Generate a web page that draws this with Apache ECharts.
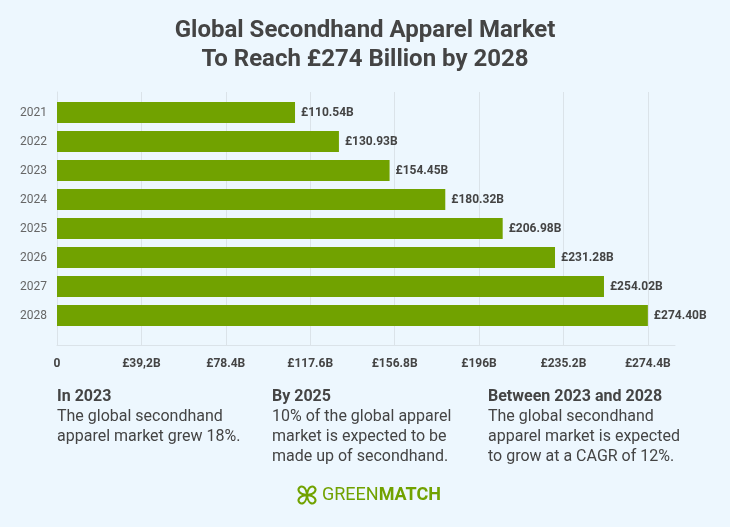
<!DOCTYPE html>
<html>
<head>
<meta charset="utf-8">
<script src="https://cdn.jsdelivr.net/npm/echarts@6/dist/echarts.min.js"></script>
<style>
html,body{margin:0;padding:0;background:#edf7fe;}
#chart{width:730px;height:527px;}
</style>
</head>
<body>
<div id="chart"></div>
<script>
const years = ['2021','2022','2023','2024','2025','2026','2027','2028'];
const values = [110.54, 130.93, 154.45, 180.32, 206.98, 231.28, 254.02, 274.40];
const tickLabels = ['0','£39,2B','£78.4B','£117.6B','£156.8B','£196B','£235.2B','£274.4B'];
const tickStep = 39.2;
const axisMax = 287;
const titleText = 'Global Secondhand Apparel Market\nTo Reach £274 Billion by 2028';
const noteHeads = ['In 2023','By 2025','Between 2023 and 2028'];
const noteBodies = [
  'The global secondhand\napparel market grew 18%.',
  '10% of the global apparel\nmarket is expected to be\nmade up of secondhand.',
  'The global secondhand\napparel market is expected\nto grow at a CAGR of 12%.'
];
const noteX = [57, 272, 488];

const dark = '#444444';
const green = '#71a200';
const gridLine = '#dbe3e9';
const font = 'Roboto, "Noto Sans", sans-serif';

const chart = echarts.init(document.getElementById('chart'), null, {renderer:'canvas'});

const titles = [{
  text: titleText,
  left: 'center', top: 16, padding: 0,
  textStyle: {fontFamily: font, fontSize: 24, fontWeight: 'bold', color: dark, lineHeight: 29}
}];
noteHeads.forEach((h, i) => {
  titles.push({
    text: h, subtext: noteBodies[i],
    left: noteX[i], top: 387, padding: 0, itemGap: 0,
    textStyle: {fontFamily: font, fontSize: 16, fontWeight: 'bold', color: dark, lineHeight: 20},
    subtextStyle: {fontFamily: font, fontSize: 16, color: dark, lineHeight: 20}
  });
});

// clover icon petals (decorative logo)
const petals = [[-1,-1],[1,-1],[-1,1],[1,1]].map(([sx, sy]) => ({
  type: 'bezierCurve', x: 307, y: 495,
  shape: {x1: 0, y1: 0, cpx1: sx * 2, cpy1: sy * 18, cpx2: sx * 18, cpy2: sy * 2, x2: 0, y2: 0},
  style: {fill: 'none', stroke: green, lineWidth: 2}
}));

chart.setOption({
  backgroundColor: '#edf7fe',
  title: titles,
  grid: [
    {left: 57, right: 55, top: 92, bottom: 182},
    {left: 57, right: 55, top: 98, height: 232}
  ],
  xAxis: [
    {
      gridIndex: 0, type: 'value', min: 0, max: axisMax, interval: tickStep,
      axisLine: {show: true, lineStyle: {color: gridLine, width: 1}},
      axisTick: {show: false},
      splitLine: {show: true, showMinLine: false, showMaxLine: false, lineStyle: {color: gridLine, width: 1}},
      axisLabel: {
        showMaxLabel: false, margin: 13,
        fontFamily: font, fontSize: 12, fontWeight: 'bold', color: dark,
        formatter: (v, i) => (tickLabels[i] !== undefined ? tickLabels[i] : '')
      }
    },
    {
      gridIndex: 1, type: 'value', min: 0, max: axisMax, show: false
    }
  ],
  yAxis: [
    {
      gridIndex: 0, type: 'value', min: 0, max: 1,
      axisLine: {show: true, lineStyle: {color: gridLine, width: 1}},
      axisTick: {show: false}, axisLabel: {show: false}, splitLine: {show: false}
    },
    {
      gridIndex: 1, type: 'category', data: years, inverse: true,
      axisLine: {show: false}, axisTick: {show: false}, splitLine: {show: false},
      axisLabel: {margin: 10, fontFamily: font, fontSize: 12, color: '#666666'}
    }
  ],
  series: [{
    type: 'bar', xAxisIndex: 1, yAxisIndex: 1,
    data: values, barWidth: 21,
    itemStyle: {color: green},
    label: {
      show: true, position: 'right', distance: 6,
      fontFamily: font, fontSize: 12, fontWeight: 'bold', color: dark,
      formatter: p => '£' + p.value.toFixed(2) + 'B'
    },
    animation: false
  }],
  graphic: petals.concat([
    {
      type: 'text', x: 322, y: 495,
      style: {
        text: '{a|GREEN}{b|MATCH}',
        verticalAlign: 'middle',
        rich: {
          a: {fontFamily: font, fontSize: 18, fill: green, fontWeight: 'normal'},
          b: {fontFamily: font, fontSize: 18, fill: green, fontWeight: 'bold'}
        }
      }
    }
  ]),
  animation: false
});
</script>
</body>
</html>
